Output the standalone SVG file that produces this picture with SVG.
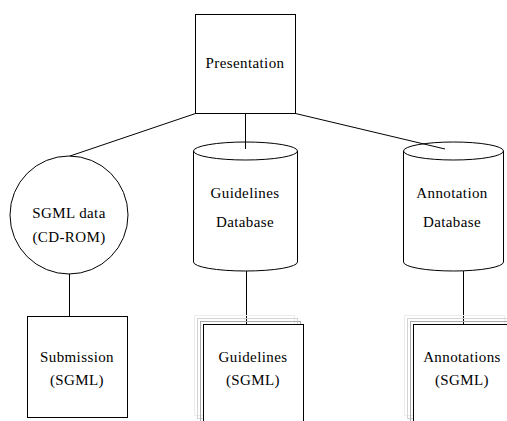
<svg xmlns="http://www.w3.org/2000/svg" width="507" height="421" viewBox="0 0 507 421">
<style>
.s{fill:none;stroke:#000;stroke-width:1}
.f{fill:#fff;stroke:#000;stroke-width:1}
.t{font-family:'Liberation Serif','Times New Roman',Times,serif;font-size:15px;fill:#000;text-anchor:middle;letter-spacing:0.4px}
.sh1{fill:none;stroke:#aaa;stroke-width:1}
.sh2{fill:none;stroke:#d4d4d4;stroke-width:1}
.sh3{fill:none;stroke:#ececec;stroke-width:1}
</style>
<rect width="507" height="421" fill="#fff"/>
<g id="connectors">
<line class="s" x1="195.5" y1="113.5" x2="70" y2="156"/>
<line class="s" x1="245.5" y1="113.5" x2="245.5" y2="149"/>
<line class="s" x1="295.5" y1="113.5" x2="445" y2="149"/>
<line class="s" x1="69.5" y1="274" x2="69.5" y2="316"/>
<line class="s" x1="246.5" y1="271" x2="246.5" y2="324"/>
<line class="s" x1="463.5" y1="271" x2="463.5" y2="324"/>
</g>
<g id="presentation">
<rect class="s" x="195.5" y="14.5" width="100" height="99"/>
<text class="t" x="245" y="68" font-family="Liberation Serif, serif">Presentation</text>
</g>
<g id="sgml-data">
<circle class="s" cx="69" cy="215" r="59"/>
<text class="t" x="69" y="218" font-family="Liberation Serif, serif">SGML data</text>
<text class="t" x="69" y="242" font-family="Liberation Serif, serif">(CD-ROM)</text>
</g>
<g id="guidelines-db">
<path class="s" d="M193.5,151 V262 A52,9 0 0 0 297.5,262 V151"/>
<ellipse class="s" cx="245.5" cy="151" rx="52" ry="9"/>
<text class="t" x="245" y="198" font-family="Liberation Serif, serif">Guidelines</text>
<text class="t" x="245" y="227" font-family="Liberation Serif, serif">Database</text>
</g>
<g id="annotation-db">
<path class="s" d="M403.5,151 V262 A50,9 0 0 0 503.5,262 V151"/>
<ellipse class="s" cx="453.5" cy="151" rx="50" ry="9"/>
<text class="t" x="452" y="198" font-family="Liberation Serif, serif">Annotation</text>
<text class="t" x="452" y="227" font-family="Liberation Serif, serif">Database</text>
</g>
<g id="submission">
<rect class="s" x="27.5" y="316.5" width="100" height="101"/>
<text class="t" x="77" y="362" font-family="Liberation Serif, serif">Submission</text>
<text class="t" x="77" y="385" font-family="Liberation Serif, serif">(SGML)</text>
</g>
<g id="guidelines-sgml">
<rect class="sh3" x="194.5" y="315.5" width="100" height="100"/>
<rect class="sh2" x="197.5" y="318.5" width="100" height="100"/>
<rect class="sh1" x="200.5" y="321.5" width="100" height="100"/>
<rect class="f" x="203.5" y="324.5" width="100" height="110"/>
<text class="t" x="253" y="362" font-family="Liberation Serif, serif">Guidelines</text>
<text class="t" x="253" y="385" font-family="Liberation Serif, serif">(SGML)</text>
</g>
<g id="annotations-sgml">
<rect class="sh3" x="404.5" y="315.5" width="100" height="100"/>
<rect class="sh2" x="407.5" y="318.5" width="100" height="100"/>
<rect class="sh1" x="410.5" y="321.5" width="100" height="100"/>
<rect class="f" x="413.5" y="324.5" width="100" height="110"/>
<text class="t" x="462" y="362" font-family="Liberation Serif, serif">Annotations</text>
<text class="t" x="462" y="385" font-family="Liberation Serif, serif">(SGML)</text>
</g>
</svg>
